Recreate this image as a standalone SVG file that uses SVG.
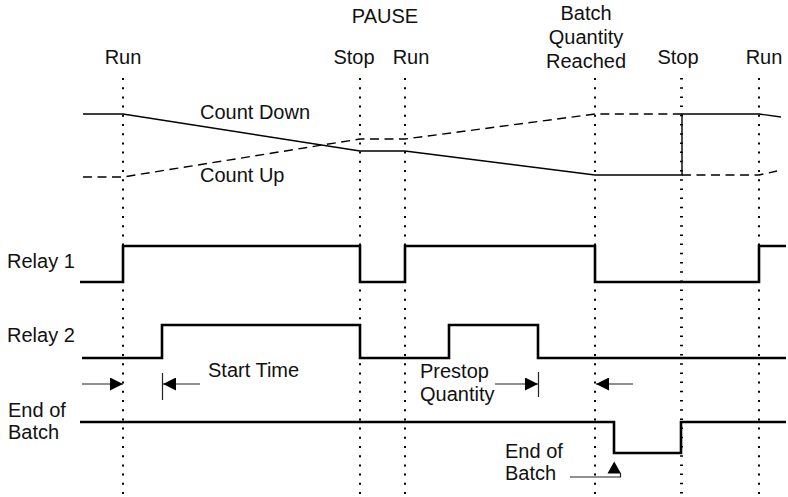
<svg xmlns="http://www.w3.org/2000/svg" width="788" height="497" viewBox="0 0 788 497">
<style>
text { font-family: "Liberation Sans", Arial, sans-serif; font-size: 20px; fill: #111; }
.mid { text-anchor: middle; }
.grid { stroke: #000; stroke-width: 2; stroke-dasharray: 2 7.2; fill: none; }
.grid2 { stroke: #000; stroke-width: 3; stroke-dasharray: 1.5 7.7; fill: none; }
.sig { stroke: #000; stroke-width: 2.6; fill: none; stroke-linejoin: miter; }
.cnt { stroke: #000; stroke-width: 1.4; fill: none; }
.dash { stroke-dasharray: 9 5.5; }
.dim { stroke: #222; stroke-width: 1.2; fill: none; }
.head { fill: #000; }
</style>
<defs>
<marker id="ah" viewBox="0 0 13 13" refX="13" refY="6.5" markerWidth="13" markerHeight="13" markerUnits="userSpaceOnUse" orient="auto">
<path d="M0,0 L13,6.5 L0,13 z" fill="#000"/>
</marker>
</defs>

<g id="time-markers">
<line class="grid" x1="123" y1="78" x2="123" y2="497"/>
<line class="grid" x1="360" y1="78" x2="360" y2="497"/>
<line class="grid" x1="405" y1="78" x2="405" y2="497"/>
<line class="grid" x1="595" y1="78" x2="595" y2="497"/>
<line class="grid2" x1="681.5" y1="78" x2="681.5" y2="497"/>
<line class="grid" x1="759" y1="78" x2="759" y2="497"/>
</g>

<g id="event-labels">
<text class="mid" x="385" y="23">PAUSE</text>
<text class="mid" x="123" y="64">Run</text>
<text class="mid" x="354" y="64">Stop</text>
<text class="mid" x="411" y="64">Run</text>
<text class="mid" x="586" y="19.5">Batch</text>
<text class="mid" x="586" y="43.5">Quantity</text>
<text class="mid" x="586" y="68">Reached</text>
<text class="mid" x="678" y="64">Stop</text>
<text class="mid" x="764" y="64">Run</text>
</g>

<g id="count-down">
<polyline class="cnt" points="83,114 123,114 360,151 405,151 595,175 682,175 682,114 759,114 781,117"/>
<text x="200" y="119">Count Down</text>
</g>

<g id="count-up">
<polyline class="cnt dash" points="83,177 123,177 360,139 405,139 595,114 682,114"/>
<polyline class="cnt dash" points="682,175 759,175 777,171"/>
<text x="200" y="182">Count Up</text>
</g>

<g id="relay-1">
<text x="7" y="268">Relay 1</text>
<polyline class="sig" points="80,282 123,282 123,246 360,246 360,282 405,282 405,246 595,246 595,282 759,282 759,246 786,246"/>
</g>

<g id="relay-2">
<text x="7" y="342">Relay 2</text>
<polyline class="sig" points="82,358 162,358 162,325 360,325 360,358 449,358 449,325 538,325 538,358 786,358"/>
</g>

<g id="end-of-batch">
<text x="8" y="417">End of</text>
<text x="8" y="439">Batch</text>
<polyline class="sig" points="80,422 614,422 614,453 681,453 681,422 786,422"/>
</g>

<g id="connectors">
<line class="dim" x1="82" y1="384" x2="123" y2="384" marker-end="url(#ah)"/>
<line class="dim" x1="162.5" y1="373" x2="162.5" y2="400"/>
<line class="dim" x1="200" y1="384" x2="163" y2="384" marker-end="url(#ah)"/>
<line class="dim" x1="495" y1="384" x2="538" y2="384" marker-end="url(#ah)"/>
<line class="dim" x1="538.5" y1="372" x2="538.5" y2="397"/>
<line class="dim" x1="633" y1="384" x2="596" y2="384" marker-end="url(#ah)"/>
<polyline class="dim" points="570,477 620.5,477 620.5,473"/>
<path class="head" d="M607.5,473.5 L621,473.5 L614.2,461.5 z"/>
</g>

<g id="annotations">
<text x="208" y="377">Start Time</text>
<text x="420" y="378">Prestop</text>
<text x="420" y="401">Quantity</text>
<text x="505" y="458">End of</text>
<text x="505" y="480">Batch</text>
</g>
</svg>
